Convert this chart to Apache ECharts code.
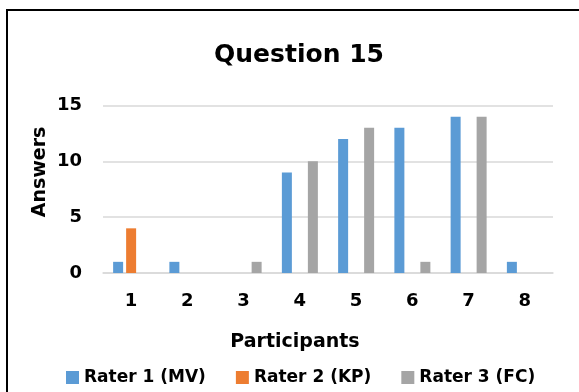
<!DOCTYPE html>
<html>
<head>
<meta charset="utf-8">
<script src="https://cdn.jsdelivr.net/npm/echarts@6/dist/echarts.min.js"></script>
<style>
html,body{margin:0;padding:0;background:#fff;}
#c{width:579px;height:392px;}
</style>
</head>
<body>
<div id="c"></div>
<script>
const categories = ['1','2','3','4','5','6','7','8'];
const rater1 = [1, 1, 0, 9, 12, 13, 14, 1];
const rater2 = [4, 0, 0, 0, 0, 0, 0, 0];
const rater3 = [0, 0, 1, 10, 13, 1, 14, 0];
const seriesNames = ['Rater 1 (MV)', 'Rater 2 (KP)', 'Rater 3 (FC)'];
const colors = ['#5b9bd5', '#ed7d31', '#a5a5a5'];
const titleText = 'Question 15';
const xName = 'Participants';
const yName = 'Answers';

const FONT = 'DejaVu Sans';
const chart = echarts.init(document.getElementById('c'));
const mk = (name, data, color) => ({
  name, type: 'bar', data, barWidth: 10, barGap: '30%',
  itemStyle: { color }
});
chart.setOption({
  animation: false,
  textStyle: { fontFamily: FONT },
  graphic: [{
    type: 'rect', shape: { x: 7, y: 10, width: 620, height: 420 },
    style: { fill: 'none', stroke: '#000', lineWidth: 2 }, silent: true, z: 100
  }, {
    type: 'text', x: 40, y: 172, rotation: Math.PI / 2,
    style: { text: yName, font: 'bold 19px "' + FONT + '"', fill: '#000', align: 'center', verticalAlign: 'middle' }
  }, {
    type: 'text', x: 295, y: 342,
    style: { text: xName, font: 'bold 19px "' + FONT + '"', fill: '#000', align: 'center', verticalAlign: 'middle' }
  }],
  title: {
    text: titleText, left: 294, top: 38, textAlign: 'center',
    textStyle: { fontFamily: FONT, fontWeight: 'bold', fontSize: 25, color: '#000' }
  },
  legend: {
    data: seriesNames, left: 61, top: 364, itemWidth: 13, itemHeight: 13, itemGap: 30,
    icon: 'rect',
    textStyle: { fontFamily: FONT, fontWeight: 'bold', fontSize: 17, color: '#000' }
  },
  grid: { left: 103, right: 26, top: 105.5, bottom: 392 - 273, containLabel: false, outerBoundsMode: 'none' },
  xAxis: {
    type: 'category', data: categories,
    axisLine: { lineStyle: { color: '#d9d9d9', width: 1.5 } },
    axisTick: { show: false },
    axisLabel: { color: '#000', fontFamily: FONT, fontWeight: 'bold', fontSize: 18, margin: 19 }
  },
  yAxis: {
    type: 'value', min: 0, max: 15, interval: 5,
    axisLine: { show: false }, axisTick: { show: false },
    axisLabel: { color: '#000', fontFamily: FONT, fontWeight: 'bold', fontSize: 18, margin: 21 },
    splitLine: { lineStyle: { color: '#d9d9d9', width: 1.5 } }
  },
  series: [mk(seriesNames[0], rater1, colors[0]), mk(seriesNames[1], rater2, colors[1]), mk(seriesNames[2], rater3, colors[2])]
});
</script>
</body>
</html>
